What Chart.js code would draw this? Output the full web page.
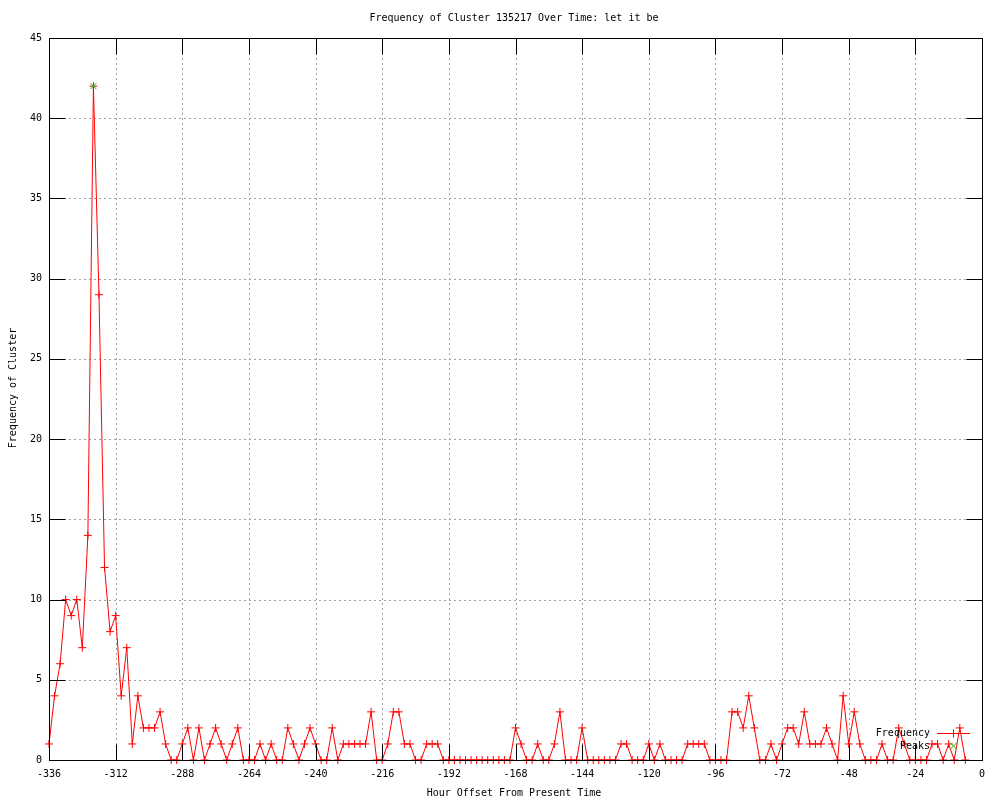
<!DOCTYPE html>
<html>
<head>
<meta charset="utf-8">
<script src="https://cdn.jsdelivr.net/npm/chart.js@4.4.0/dist/chart.umd.min.js"></script>
<style>
  html, body { margin: 0; padding: 0; background: #fff; }
  #wrap { width: 1000px; height: 800px; }
</style>
</head>
<body>
<div id="wrap"><canvas id="chart" width="1000" height="800"></canvas></div>
<script>
// hour offsets, one sample every 2 hours
const hours = [
  -336,-334,-332,-330,-328,-326,-324,-322,-320,-318,-316,-314,
  -312,-310,-308,-306,-304,-302,-300,-298,-296,-294,-292,-290,
  -288,-286,-284,-282,-280,-278,-276,-274,-272,-270,-268,-266,
  -264,-262,-260,-258,-256,-254,-252,-250,-248,-246,-244,-242,
  -240,-238,-236,-234,-232,-230,-228,-226,-224,-222,-220,-218,
  -216,-214,-212,-210,-208,-206,-204,-202,-200,-198,-196,-194,
  -192,-190,-188,-186,-184,-182,-180,-178,-176,-174,-172,-170,
  -168,-166,-164,-162,-160,-158,-156,-154,-152,-150,-148,-146,
  -144,-142,-140,-138,-136,-134,-132,-130,-128,-126,-124,-122,
  -120,-118,-116,-114,-112,-110,-108,-106,-104,-102,-100,-98,
  -96,-94,-92,-90,-88,-86,-84,-82,-80,-78,-76,-74,
  -72,-70,-68,-66,-64,-62,-60,-58,-56,-54,-52,-50,
  -48,-46,-44,-42,-40,-38,-36,-34,-32,-30,-28,-26,
  -24,-22,-20,-18,-16,-14,-12,-10,-8,-6
];
const frequency = [
  1,4,6,10,9,10,7,14,42,29,12,8,
  9,4,7,1,4,2,2,2,3,1,0,0,
  1,2,0,2,0,1,2,1,0,1,2,0,
  0,0,1,0,1,0,0,2,1,0,1,2,
  1,0,0,2,0,1,1,1,1,1,3,0,
  0,1,3,3,1,1,0,0,1,1,1,0,
  0,0,0,0,0,0,0,0,0,0,0,0,
  2,1,0,0,1,0,0,1,3,0,0,0,
  2,0,0,0,0,0,0,1,1,0,0,0,
  1,0,1,0,0,0,0,1,1,1,1,0,
  0,0,0,3,3,2,4,2,0,0,1,0,
  1,2,2,1,3,1,1,1,2,1,0,4,
  1,3,1,0,0,0,1,0,0,2,1,0,
  0,0,0,1,1,0,1,0,2,0
];
const peakHours = [-320];
const peakValues = [42];

const xTicks = [-336,-312,-288,-264,-240,-216,-192,-168,-144,-120,-96,-72,-48,-24,0];
const yTicks = [0,5,10,15,20,25,30,35,40,45];

const FONT = '"DejaVu Sans Mono", "Liberation Mono", monospace';

const freqPoints = hours.map((h, i) => ({x: h, y: frequency[i]}));
const peakPoints = peakHours.map((h, i) => ({x: h, y: peakValues[i]}));

// gnuplot-ish frame: dotted grid, box, inward ticks, title, key
const gnuplotLook = {
  id: 'gnuplotLook',
  beforeDatasetsDraw(chart) {
    const {ctx, chartArea: a, scales: {x, y}} = chart;
    ctx.save();
    ctx.strokeStyle = '#a0a0a0';
    ctx.lineWidth = 1;
    ctx.setLineDash([2, 3]);
    xTicks.forEach(v => {
      if (v === x.min || v === x.max) return;
      const px = Math.round(x.getPixelForValue(v)) + 0.5;
      ctx.beginPath(); ctx.moveTo(px, a.top); ctx.lineTo(px, a.bottom); ctx.stroke();
    });
    yTicks.forEach(v => {
      if (v === y.min || v === y.max) return;
      const py = Math.round(y.getPixelForValue(v)) + 0.5;
      ctx.beginPath(); ctx.moveTo(a.left, py); ctx.lineTo(a.right, py); ctx.stroke();
    });
    ctx.restore();
  },
  afterDatasetsDraw(chart) {
    const {ctx, chartArea: a, scales: {x, y}} = chart;
    const L = Math.round(a.left) + 0.5, R = Math.round(a.right) + 0.5;
    const T = Math.round(a.top) + 0.5, B = Math.round(a.bottom) + 0.5;
    const tl = 16;
    ctx.save();
    ctx.strokeStyle = '#000';
    ctx.lineWidth = 1;
    ctx.strokeRect(L, T, R - L, B - T);
    ctx.beginPath();
    xTicks.forEach(v => {
      const px = Math.round(x.getPixelForValue(v)) + 0.5;
      ctx.moveTo(px, B); ctx.lineTo(px, B - tl);
      ctx.moveTo(px, T); ctx.lineTo(px, T + tl);
    });
    yTicks.forEach(v => {
      const py = Math.round(y.getPixelForValue(v)) + 0.5;
      ctx.moveTo(L, py); ctx.lineTo(L + tl, py);
      ctx.moveTo(R, py); ctx.lineTo(R - tl, py);
    });
    ctx.stroke();
    ctx.restore();
  },
  afterDraw(chart) {
    const {ctx, chartArea: a} = chart;
    ctx.save();
    ctx.fillStyle = '#000';
    ctx.font = '10px ' + FONT;
    ctx.textBaseline = 'middle';
    ctx.textAlign = 'center';
    ctx.fillText('Frequency of Cluster 135217 Over Time: let it be', 514, 18);
    ctx.fillText('Hour Offset From Present Time', 514, 793);
    ctx.save();
    ctx.translate(13, 388);
    ctx.rotate(-Math.PI / 2);
    ctx.fillText('Frequency of Cluster', 0, 0);
    ctx.restore();

    // key
    ctx.textAlign = 'right';
    ctx.fillText('Frequency', 930, 733);
    ctx.fillText('Peaks', 930, 746);
    ctx.strokeStyle = '#ff0000';
    ctx.lineWidth = 1;
    ctx.beginPath();
    ctx.moveTo(937, 733.5); ctx.lineTo(970, 733.5);
    ctx.moveTo(953.5, 729.5); ctx.lineTo(953.5, 737.5);
    ctx.stroke();
    ctx.strokeStyle = '#00c000';
    ctx.beginPath();
    ctx.moveTo(950, 742.5); ctx.lineTo(957, 749.5);
    ctx.moveTo(957, 742.5); ctx.lineTo(950, 749.5);
    ctx.stroke();
    ctx.restore();
  }
};

new Chart(document.getElementById('chart'), {
  type: 'line',
  data: {
    datasets: [
      {
        label: 'Peaks',
        data: peakPoints,
        showLine: false,
        pointStyle: 'crossRot',
        pointRadius: 4,
        pointBorderColor: '#00c000',
        pointBorderWidth: 1,
        clip: false
      },
      {
        label: 'Frequency',
        data: freqPoints,
        borderColor: '#ff0000',
        borderWidth: 1,
        tension: 0,
        pointStyle: 'cross',
        pointRadius: 4,
        pointBorderColor: '#ff0000',
        pointBorderWidth: 1,
        clip: false
      }
    ]
  },
  options: {
    responsive: false,
    animation: false,
    devicePixelRatio: 1,
    layout: { padding: { top: 38, right: 18, left: 0, bottom: 0 } },
    plugins: {
      legend: { display: false },
      title: { display: false },
      tooltip: { enabled: false }
    },
    scales: {
      x: {
        type: 'linear',
        min: -336,
        max: 0,
        afterBuildTicks(scale) { scale.ticks = xTicks.map(v => ({value: v})); },
        afterFit(scale) { scale.height = 40; },
        grid: { display: false, drawTicks: false },
        border: { display: false },
        ticks: {
          color: '#000',
          font: { family: FONT, size: 10 },
          padding: 8,
          maxRotation: 0,
          autoSkip: false
        }
      },
      y: {
        type: 'linear',
        min: 0,
        max: 45,
        afterBuildTicks(scale) { scale.ticks = yTicks.map(v => ({value: v})); },
        afterFit(scale) { scale.width = 49; },
        grid: { display: false, drawTicks: false },
        border: { display: false },
        ticks: {
          color: '#000',
          font: { family: FONT, size: 10 },
          padding: 7,
          autoSkip: false
        }
      }
    }
  },
  plugins: [gnuplotLook]
});
</script>
</body>
</html>
